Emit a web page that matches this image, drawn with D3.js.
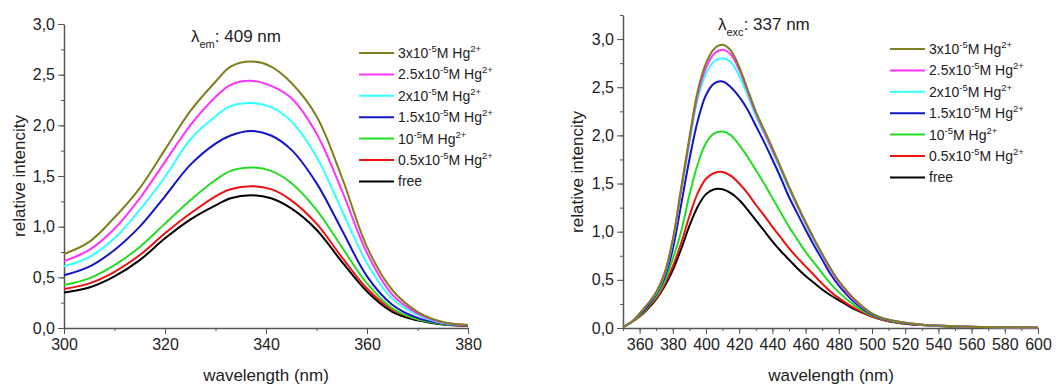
<!DOCTYPE html>
<html>
<head>
<meta charset="utf-8">
<script src="https://cdn.jsdelivr.net/npm/d3@7"></script>
<style>
  body { margin: 0; background: #fff; }
  svg { display: block; font-family: 'Liberation Sans', Arial, sans-serif; }
  .axis path, .axis line { stroke: #555; }
  .axis text { fill: #222; font-size: 16px; font-family: 'Liberation Sans', Arial, sans-serif; }
  .label { fill: #222; font-size: 17px; }
  .legend text { fill: #222; font-size: 14px; }
</style>
</head>
<body>
<div id="chart"></div>
<script>
// series names and colours (top of legend first), | marks superscript parts
const seriesNames = ['3x10|-5|M Hg|2+', '2.5x10|-5|M Hg|2+', '2x10|-5|M Hg|2+', '1.5x10|-5|M Hg|2+', '10|-5|M Hg|2+', '0.5x10|-5|M Hg|2+', 'free'];
const seriesColors = ['#7f7f1e', '#ff33ff', '#33ffff', '#1414c8', '#22dd22', '#ee1111', '#000000'];

// left panel: excitation spectra (lambda em 409 nm)
const wavelengthsExc = [300, 305, 310, 315, 320, 325, 330, 333, 337, 341, 345, 350, 355, 360, 365, 370, 375, 380];
const exc3 = [0.73, 0.85, 1.09, 1.38, 1.76, 2.14, 2.43, 2.58, 2.63, 2.58, 2.42, 2.09, 1.49, 0.80, 0.375, 0.16, 0.06, 0.03];
const exc25 = [0.66, 0.77, 0.98, 1.28, 1.64, 2.00, 2.28, 2.40, 2.44, 2.39, 2.27, 1.92, 1.36, 0.74, 0.33, 0.145, 0.055, 0.03];
const exc2 = [0.61, 0.70, 0.885, 1.165, 1.49, 1.86, 2.09, 2.19, 2.22, 2.18, 2.04, 1.69, 1.165, 0.64, 0.29, 0.13, 0.05, 0.03];
const exc15 = [0.52, 0.605, 0.77, 1.00, 1.30, 1.61, 1.82, 1.90, 1.945, 1.90, 1.76, 1.43, 0.97, 0.51, 0.23, 0.10, 0.045, 0.025];
const exc1 = [0.425, 0.49, 0.62, 0.80, 1.03, 1.26, 1.46, 1.55, 1.585, 1.55, 1.43, 1.165, 0.80, 0.44, 0.195, 0.085, 0.04, 0.025];
const exc05 = [0.385, 0.44, 0.555, 0.72, 0.935, 1.13, 1.30, 1.37, 1.40, 1.37, 1.26, 1.03, 0.70, 0.39, 0.18, 0.085, 0.04, 0.02];
const excFree = [0.35, 0.40, 0.51, 0.67, 0.885, 1.07, 1.21, 1.28, 1.31, 1.28, 1.18, 0.97, 0.655, 0.36, 0.16, 0.075, 0.035, 0.02];

// right panel: emission spectra (lambda exc 337 nm)
const wavelengthsEm = [350, 355, 360, 365, 370, 375, 380, 385, 390, 395, 400, 405, 410, 415, 420, 425, 430, 435, 440, 445, 450, 455, 460, 465, 470, 475, 480, 490, 500, 510, 520, 530, 540, 560, 580, 600];
const em3 = [0.01, 0.06, 0.15, 0.25, 0.37, 0.57, 0.92, 1.45, 1.98, 2.46, 2.75, 2.90, 2.94, 2.88, 2.71, 2.48, 2.25, 2.06, 1.87, 1.67, 1.47, 1.28, 1.10, 0.93, 0.77, 0.62, 0.49, 0.29, 0.15, 0.085, 0.055, 0.035, 0.025, 0.012, 0.006, 0.004];
const em25 = [0.01, 0.06, 0.15, 0.25, 0.37, 0.56, 0.91, 1.43, 1.95, 2.42, 2.70, 2.85, 2.89, 2.84, 2.68, 2.46, 2.23, 2.04, 1.85, 1.66, 1.46, 1.27, 1.09, 0.92, 0.76, 0.61, 0.48, 0.28, 0.15, 0.085, 0.055, 0.035, 0.025, 0.012, 0.006, 0.004];
const em2 = [0.01, 0.06, 0.15, 0.25, 0.36, 0.55, 0.90, 1.41, 1.92, 2.38, 2.64, 2.77, 2.80, 2.76, 2.62, 2.42, 2.20, 2.02, 1.83, 1.64, 1.44, 1.26, 1.08, 0.91, 0.75, 0.61, 0.48, 0.28, 0.15, 0.085, 0.055, 0.035, 0.025, 0.012, 0.006, 0.004];
const em15 = [0.01, 0.06, 0.14, 0.23, 0.35, 0.52, 0.82, 1.28, 1.75, 2.15, 2.42, 2.54, 2.56, 2.50, 2.40, 2.27, 2.10, 1.93, 1.75, 1.56, 1.36, 1.19, 1.02, 0.86, 0.71, 0.56, 0.44, 0.26, 0.14, 0.08, 0.05, 0.033, 0.023, 0.012, 0.006, 0.004];
const em1 = [0.01, 0.06, 0.13, 0.22, 0.33, 0.48, 0.72, 1.00, 1.38, 1.70, 1.92, 2.02, 2.04, 2.00, 1.90, 1.78, 1.64, 1.50, 1.35, 1.20, 1.05, 0.92, 0.79, 0.68, 0.57, 0.46, 0.37, 0.23, 0.13, 0.075, 0.048, 0.032, 0.022, 0.011, 0.006, 0.004];
const em05 = [0.01, 0.06, 0.12, 0.21, 0.31, 0.45, 0.64, 0.88, 1.16, 1.40, 1.55, 1.61, 1.62, 1.58, 1.50, 1.40, 1.28, 1.17, 1.05, 0.94, 0.83, 0.73, 0.64, 0.55, 0.46, 0.38, 0.31, 0.20, 0.12, 0.07, 0.045, 0.03, 0.02, 0.01, 0.005, 0.004];
const emFree = [0.01, 0.06, 0.12, 0.20, 0.30, 0.43, 0.60, 0.82, 1.06, 1.26, 1.39, 1.44, 1.44, 1.40, 1.33, 1.23, 1.12, 1.01, 0.90, 0.80, 0.71, 0.62, 0.54, 0.47, 0.40, 0.34, 0.29, 0.19, 0.12, 0.07, 0.045, 0.03, 0.02, 0.01, 0.005, 0.004];

// tick values
const excTicks = [300, 320, 340, 360, 380];
const emTicks = [360, 380, 400, 420, 440, 460, 480, 500, 520, 540, 560, 580, 600];
const yTicks = [0, 0.5, 1.0, 1.5, 2.0, 2.5, 3.0];

const W = 1057;
const H = 388;

const $svg = d3.select('#chart').append('svg').attr('width', W).attr('height', H);

const fmtY = (d) => d3.format('.1f')(d).replace('.', ',');

// legend label: parts split by |, odd parts are superscripts
function writeLabel($text, label) {
  label.split('|').forEach((part, i) => {
    const isSup = i % 2 === 1;
    $text.append('tspan')
      .attr('dy', isSup ? -6 : (i > 0 ? 6 : 0))
      .style('font-size', isSup ? '9.5px' : null)
      .text(part);
  });
}

function drawPanel(opt) {
  const scaleX = d3.scaleLinear().domain(opt.xDomain).range(opt.xRange);
  const scaleY = d3.scaleLinear().domain(opt.yDomain).range(opt.yRange);
  const $g = $svg.append('g');

  // minor ticks
  $g.append('g').attr('class', 'axis')
    .attr('transform', `translate(0,${opt.yRange[0]})`)
    .call(d3.axisBottom(scaleX).tickValues(opt.xMinor).tickSize(3).tickFormat(''))
    .select('.domain').remove();
  $g.append('g').attr('class', 'axis')
    .attr('transform', `translate(${opt.xRange[0]},0)`)
    .call(d3.axisLeft(scaleY).tickValues(d3.range(0, opt.yDomain[1] + 0.01, 0.25)).tickSize(3).tickFormat(''))
    .select('.domain').remove();

  // main axes
  $g.append('g').attr('class', 'axis')
    .attr('transform', `translate(0,${opt.yRange[0]})`)
    .call(d3.axisBottom(scaleX).tickValues(opt.xTicks).tickSize(6).tickSizeOuter(0).tickPadding(5))
    .call((a) => a.select('.domain').attr('stroke-width', 1.5));
  $g.append('g').attr('class', 'axis')
    .attr('transform', `translate(${opt.xRange[0]},0)`)
    .call(d3.axisLeft(scaleY).tickValues(yTicks).tickSize(6).tickSizeOuter(0).tickPadding(3).tickFormat(fmtY))
    .call((a) => a.select('.domain').attr('stroke-width', 1.5));

  // curves, free first so the 3x curve ends up on top
  const line = d3.line()
    .x((d) => scaleX(d[0]))
    .y((d) => scaleY(d[1]))
    .curve(d3.curveCatmullRom.alpha(0.5));
  const rows = opt.series.map((vals, i) => ({ color: seriesColors[i], pts: opt.xs.map((x, j) => [x, vals[j]]) }));
  $g.append('g').selectAll('path')
    .data(rows.slice().reverse())
    .join('path')
    .attr('d', (d) => line(d.pts))
    .attr('fill', 'none')
    .attr('stroke', (d) => d.color)
    .attr('stroke-width', 2);

  // axis titles
  $g.append('text').attr('class', 'label')
    .attr('x', opt.xLabelX)
    .attr('y', 381)
    .attr('text-anchor', 'middle')
    .text('wavelength (nm)');
  $g.append('text').attr('class', 'label')
    .attr('transform', `translate(${opt.yLabelX},${opt.yLabelY}) rotate(-90)`)
    .attr('text-anchor', 'middle')
    .text('relative intencity');

  // lambda title
  const $title = $g.append('text').attr('class', 'label')
    .attr('x', opt.titlePos[0]).attr('y', opt.titlePos[1]);
  $title.append('tspan').text('λ');
  $title.append('tspan').attr('dy', 6).style('font-size', '11px').text(opt.titleSub);
  $title.append('tspan').attr('dy', -6).text(`: ${opt.titleValue} nm`);

  // legend
  const $legend = $g.append('g').attr('class', 'legend')
    .attr('transform', `translate(${opt.legendPos[0]},${opt.legendPos[1]})`);
  const $rows = $legend.selectAll('g')
    .data(seriesNames)
    .join('g')
    .attr('transform', (d, i) => `translate(0,${i * 21.4})`);
  $rows.append('line')
    .attr('x1', 0).attr('x2', 35)
    .attr('stroke', (d, i) => seriesColors[i])
    .attr('stroke-width', 2);
  $rows.append('text')
    .attr('x', 39).attr('y', 5)
    .each(function (d) { writeLabel(d3.select(this), d); });
}

drawPanel({
  xs: wavelengthsExc,
  series: [exc3, exc25, exc2, exc15, exc1, exc05, excFree],
  xDomain: [300, 380], xRange: [64, 468],
  yDomain: [0, 3], yRange: [328, 24],
  xTicks: excTicks, xMinor: d3.range(300, 381, 10),
  xLabelX: 266,
  yLabelX: 25, yLabelY: 176,
  titlePos: [191, 42], titleSub: 'em', titleValue: 409,
  legendPos: [359, 53],
});

drawPanel({
  xs: wavelengthsEm,
  series: [em3, em25, em2, em15, em1, em05, emFree],
  xDomain: [350, 600], xRange: [623, 1038],
  yDomain: [0, 3.25], yRange: [328, 15],
  xTicks: emTicks, xMinor: d3.range(350, 601, 10),
  xLabelX: 831,
  yLabelX: 583, yLabelY: 172,
  titlePos: [718, 30], titleSub: 'exc', titleValue: 337,
  legendPos: [890, 49],
});
</script>
</body>
</html>
